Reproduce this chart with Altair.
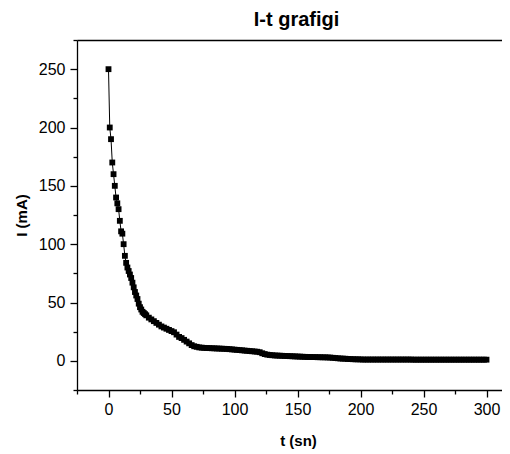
import altair as alt
import pandas as pd

# time (s)
t_vals = [0, 1, 2, 3, 4, 5, 6, 7, 8, 9, 10, 11, 12, 13, 14, 15, 16, 17, 18, 19, 20,
          21, 22, 23, 24, 25, 26, 27, 28, 29, 30,
          32, 34, 36, 38, 40, 42, 44, 46, 48, 50, 52, 54, 56, 58, 60, 62, 64, 66, 68, 70,
          72, 74, 76, 78, 80, 82, 84, 86, 88, 90, 92, 94, 96, 98, 100, 102, 104, 106, 108, 110,
          112, 114, 116, 118, 120, 122, 124, 126, 128, 130, 132, 134, 136, 138, 140, 142, 144, 146, 148, 150,
          152, 154, 156, 158, 160, 162, 164, 166, 168, 170, 172, 174, 176, 178, 180, 182, 184, 186, 188, 190,
          192, 194, 196, 198, 200, 202, 204, 206, 208, 210, 212, 214, 216, 218, 220, 222, 224, 226, 228, 230,
          232, 234, 236, 238, 240, 242, 244, 246, 248, 250, 252, 254, 256, 258, 260, 262, 264, 266, 268, 270,
          272, 274, 276, 278, 280, 282, 284, 286, 288, 290, 292, 294, 296, 298, 300]

# current (mA)
i_vals = [250, 200, 190, 170, 160, 150, 140, 135, 130, 120, 111, 109, 100, 90, 84, 80, 77, 74, 71, 67, 63,
          59, 56, 53, 49, 46, 44, 42, 41, 40, 39,
          37, 35.5, 34, 32.5, 31, 29.5, 28.5, 27.5, 26.5, 25.5, 24.5, 22.5, 20.5, 19.5, 18, 16.5, 15, 13.5, 12.5, 12,
          11.5, 11.3, 11.1, 11, 10.9, 10.8, 10.7, 10.6, 10.5, 10.4, 10.3, 10.2, 10, 9.8, 9.6, 9.4, 9.2, 9, 8.8, 8.6,
          8.4, 8.2, 8, 7.8, 7.4, 6.5, 5.8, 5.3, 5, 4.8, 4.6, 4.5, 4.4, 4.3, 4.2, 4.1, 4, 3.9, 3.8, 3.7,
          3.6, 3.5, 3.4, 3.3, 3.3, 3.2, 3.2, 3.1, 3.1, 3, 3, 2.9, 2.8, 2.6, 2.4, 2.2, 2, 1.9, 1.8, 1.6,
          1.5, 1.4, 1.3, 1.3, 1.2, 1.1, 1.1, 1.1, 1.1, 1.1, 1.1, 1.1, 1.1, 1.1, 1.1, 1.1, 1.1, 1.1, 1.1, 1.1,
          1.1, 1.1, 1.1, 1.1, 1.1, 1, 1, 1, 1, 1, 1, 1, 1, 1, 1, 1, 1, 1, 1, 1,
          1, 1, 1, 1, 1, 1, 1, 1, 1, 1, 1, 1, 1, 1, 1]

x_tick_values = [-25, 0, 25, 50, 75, 100, 125, 150, 175, 200, 225, 250, 275, 300]
y_tick_values = [-25, 0, 25, 50, 75, 100, 125, 150, 175, 200, 225, 250, 275]

df = pd.DataFrame({"t": t_vals, "I": i_vals})

FONT = "Liberation Sans"
major = "datum.value % 50 === 0"

x_scale = alt.Scale(domain=[-25, 312.3], nice=False, zero=False)
y_scale = alt.Scale(domain=[-25, 275], nice=False, zero=False)

x_axis = alt.Axis(
    values=x_tick_values, title="t (sn)", grid=False,
    labelExpr=f"{major} ? datum.label : ''",
    tickSize={"condition": {"test": major, "value": 7}, "value": 4},
    labelFontSize=16, labelPadding=4, labelFlush=False,
    titleFontSize=15, titleFontWeight="bold", titlePadding=16, titleX=221,
)
x_top_axis = alt.Axis(orient="top", title=None, labels=False, ticks=False, grid=False, domain=True)
y_axis = alt.Axis(
    values=y_tick_values, title="I (mA)", grid=False,
    labelExpr=f"{major} ? datum.label : ''",
    tickSize={"condition": {"test": major, "value": 7}, "value": 4},
    labelFontSize=16, labelPadding=5, labelFlush=False,
    titleFontSize=15, titleFontWeight="bold", titlePadding=9,
)

base = alt.Chart(df)
line = base.mark_line(color="black", strokeWidth=1).encode(
    x=alt.X("t:Q", scale=x_scale, axis=x_axis),
    y=alt.Y("I:Q", scale=y_scale, axis=y_axis),
)
pts = base.mark_square(color="black", size=34, opacity=1).encode(
    x=alt.X("t:Q", scale=x_scale, axis=x_top_axis),
    y=alt.Y("I:Q", scale=y_scale, axis=y_axis),
)

chart = alt.layer(line, pts).resolve_axis(x="independent").properties(
    width=425, height=350,
    title=alt.TitleParams("I-t grafigi", font=FONT, fontSize=20, fontWeight="bold",
                          anchor="middle", dx=7, offset=9, color="black"),
    autosize=alt.AutoSizeParams(type="none"),
    padding={"left": 69, "top": 32, "right": 0, "bottom": 62},
).configure_view(stroke=None).configure_axis(
    labelFont=FONT, titleFont=FONT, labelColor="black", titleColor="black",
    domainColor="black", domainWidth=1.3, tickColor="black", tickWidth=1.3,
)

chart.save("out.html", embed_options={"renderer": "svg", "actions": False})
